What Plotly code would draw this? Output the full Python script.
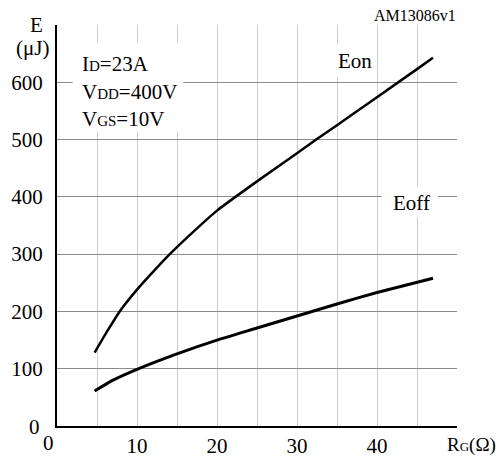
import plotly.graph_objects as go

# Data
eon_rg = [4.7, 6.3, 7.84, 10, 12, 14.1, 17.5, 20, 25, 30, 32.4, 35, 40, 45, 47]
eon_uj = [128, 166, 200, 238, 269, 300, 345, 376, 427, 476, 500, 525, 574, 623, 643]

eoff_rg = [4.7, 7, 10, 15, 20, 25, 30, 35, 40, 47]
eoff_uj = [61, 80, 99, 126, 150, 171, 192, 213, 233, 258]

x_tickvals = [0, 5, 10, 15, 20, 25, 30, 35, 40, 45, 50]
x_ticktext = ["", "", "10", "", "20", "", "30", "", "40", "", ""]
y_tickvals = [0, 100, 200, 300, 400, 500, 600, 700]
y_ticktext = ["", "100", "200", "300", "400", "500", "600", ""]

FONT = "Liberation Serif, Times New Roman, DejaVu Serif, serif"
SUB = "<span style='font-size:15px'>{}</span>"
FS = 21

W, H = 498, 459
L, R, T, B = 57.3, 40.7, 25, 33

fig = go.Figure()
fig.add_trace(go.Scatter(x=eon_rg, y=eon_uj, mode="lines",
                         line=dict(color="black", width=2.5, shape="spline", smoothing=0.5),
                         showlegend=False, hoverinfo="skip"))
fig.add_trace(go.Scatter(x=eoff_rg, y=eoff_uj, mode="lines",
                         line=dict(color="black", width=3, shape="spline", smoothing=0.5),
                         showlegend=False, hoverinfo="skip"))

# white masks behind text (hide grid)
for x0, x1, y0, y1 in [(1.96, 15.8, 512.8, 670), (34.1, 39.7, 609, 666.8), (40.6, 47.6, 364, 418)]:
    fig.add_shape(type="rect", xref="x", yref="y", x0=x0, x1=x1, y0=y0, y1=y1,
                  fillcolor="white", line=dict(width=0), layer="between")

ann = []
def A(x, y, text, size=FS, xanchor="center", yanchor="middle"):
    ann.append(dict(x=x, y=y, xref="x", yref="y", text=text, showarrow=False,
                    font=dict(family=FONT, size=size, color="black"),
                    xanchor=xanchor, yanchor=yanchor))

def P(px, py, text, size=FS, xanchor="center", yanchor="middle"):
    # position given in page pixels, converted to paper coordinates
    ann.append(dict(x=(px - L) / (W - L - R), y=(H - B - py) / (H - T - B),
                    xref="paper", yref="paper", text=text, showarrow=False,
                    font=dict(family=FONT, size=size, color="black"),
                    xanchor=xanchor, yanchor=yanchor))

A(2.9, 632, "I" + SUB.format("D") + "=23A", xanchor="left")
A(2.9, 583.5, "V" + SUB.format("DD") + "=400V", xanchor="left")
A(2.9, 536, "V" + SUB.format("GS") + "=10V", xanchor="left")
A(37.2, 637, "Eon")
A(44.3, 388.5, "Eoff")
P(36.7, 25, "E")
P(32.5, 48, "(μJ)")
P(35, 426.7, "0")
P(49, 443, "0")
P(472, 445, "R<span style='font-size:13px'>G</span>(Ω)", size=19)
P(458, 15, "AM13086v1", size=16, xanchor="right")

fig.update_layout(
    width=W, height=H,
    margin=dict(l=L, r=R, t=T, b=B, autoexpand=False),
    plot_bgcolor="white", paper_bgcolor="white",
    font=dict(family=FONT, size=FS, color="black"),
    annotations=ann,
    xaxis=dict(range=[0, 50], tickvals=x_tickvals, ticktext=x_ticktext,
               showgrid=True, gridcolor="#cccccc", gridwidth=1,
               showline=True, linecolor="black", linewidth=2, automargin=False,
               zeroline=False, ticks="", ticklabelstandoff=0),
    yaxis=dict(range=[0, 700], tickvals=y_tickvals, ticktext=y_ticktext,
               showgrid=True, gridcolor="#8c8c8c", gridwidth=1,
               showline=True, linecolor="black", linewidth=2, automargin=False,
               zeroline=False, ticks="", ticklabelstandoff=8),
)

fig.write_html("out.html",
               config={"displayModeBar": False},
               post_script="document.body.style.margin='0';document.body.style.overflow='hidden';")
